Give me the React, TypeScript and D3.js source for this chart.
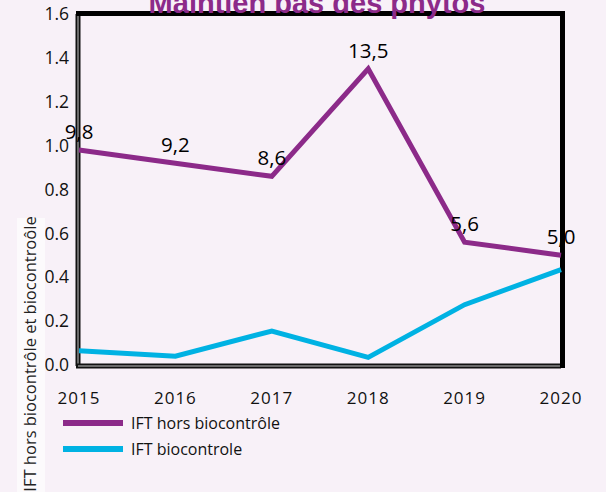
import React from "react";
import * as d3 from "d3";

const years = ["2015", "2016", "2017", "2018", "2019", "2020"];
const iftHorsBio = [0.98, 0.92, 0.86, 1.35, 0.56, 0.5];
const iftHorsBioLabels = ["9,8", "9,2", "8,6", "13,5", "5,6", "5,0"];
const iftBio = [0.065, 0.04, 0.155, 0.035, 0.275, 0.435];
const yTicks = [0, 0.2, 0.4, 0.6, 0.8, 1.0, 1.2, 1.4, 1.6];
const seriesNames = ["IFT hors biocontrôle", "IFT biocontrole"];
const title = "Maintien bas des phytos";
const yTitle = "IFT hors biocontrôle et biocontroôle";

const W = 606;
const H = 492;
const L = 79, R = 561, T = 14, B = 365;
const PURPLE = "#8c2a89";
const BLUE = "#00b2e3";
const BG = "#f8f1f8";
const FONT = "'Open Sans', sans-serif";

export default function App() {
  const x = d3.scalePoint<string>().domain(years).range([L, R]);
  const y = d3.scaleLinear().domain([0, 1.6]).range([B, T]);
  const line = d3
    .line<number>()
    .x((_, i) => x(years[i]) as number)
    .y((d) => y(d));

  return (
    <svg
      width={W}
      height={H}
      style={{ position: "absolute", left: 0, top: 0, display: "block" }}
    >
      <rect x={0} y={0} width={W} height={H} fill={BG} />
      {/* y tick labels */}
      {yTicks.map((t) => (
        <text
          key={t}
          x={69}
          y={y(t)}
          dy="0.35em"
          textAnchor="end"
          fontFamily={FONT}
          fontSize={17.5}
          fill="#111"
        >
          {t.toFixed(1)}
        </text>
      ))}
      {/* y title box and text */}
      <rect x={17} y={218} width={28} height={280} fill="#fdfbfd" opacity={0.85} />
      <text
        transform={`translate(36, ${354}) rotate(-90)`}
        textAnchor="middle"
        fontFamily={FONT}
        fontSize={16.5}
        fill="#222"
      >
        {yTitle}
      </text>
      {/* frame: left & bottom double lines */}
      <line x1={L - 1} y1={T} x2={L - 1} y2={B + 1} stroke="#111" strokeWidth={5} />
      <line x1={L - 1} y1={T} x2={L - 1} y2={B + 1} stroke="#888" strokeWidth={1.5} />
      <line x1={L - 3} y1={B + 1} x2={R} y2={B + 1} stroke="#111" strokeWidth={5} />
      <line x1={L - 1} y1={B + 1} x2={R} y2={B + 1} stroke="#888" strokeWidth={1.5} />
      {/* frame: top & right thick */}
      <line x1={L - 3} y1={T - 0.5} x2={R + 4} y2={T - 0.5} stroke="#000" strokeWidth={5} />
      <line x1={R + 1.5} y1={T - 3} x2={R + 1.5} y2={B + 3} stroke="#000" strokeWidth={5} />
      {/* lines */}
      <path d={line(iftBio) || ""} fill="none" stroke={BLUE} strokeWidth={5} />
      <path d={line(iftHorsBio) || ""} fill="none" stroke={PURPLE} strokeWidth={5} />
      {/* data labels */}
      {iftHorsBio.map((v, i) => (
        <text
          key={i}
          x={x(years[i]) as number}
          y={y(v) - 11}
          textAnchor="middle"
          fontFamily={FONT}
          fontSize={20.5}
          fill="#000"
        >
          {iftHorsBioLabels[i]}
        </text>
      ))}
      {/* x labels */}
      {years.map((yr) => (
        <text
          key={yr}
          x={x(yr) as number}
          y={404}
          textAnchor="middle"
          fontFamily={FONT}
          fontSize={17}
          letterSpacing={1}
          fill="#111"
        >
          {yr}
        </text>
      ))}
      {/* legend */}
      {seriesNames.map((name, i) => (
        <g key={name} transform={`translate(0, ${423 + i * 26})`}>
          <line
            x1={63}
            x2={123}
            y1={0}
            y2={0}
            stroke={i === 0 ? PURPLE : BLUE}
            strokeWidth={6}
          />
          <text x={131} y={0} dy="0.35em" fontFamily={FONT} fontSize={16} fill="#111">
            {name}
          </text>
        </g>
      ))}
      {/* title */}
      <text
        x={317}
        y={12.5}
        textAnchor="middle"
        fontFamily="'Liberation Sans', Arial, sans-serif"
        fontWeight="bold"
        fontSize={29}
        fill={PURPLE}
      >
        {title}
      </text>
    </svg>
  );
}
